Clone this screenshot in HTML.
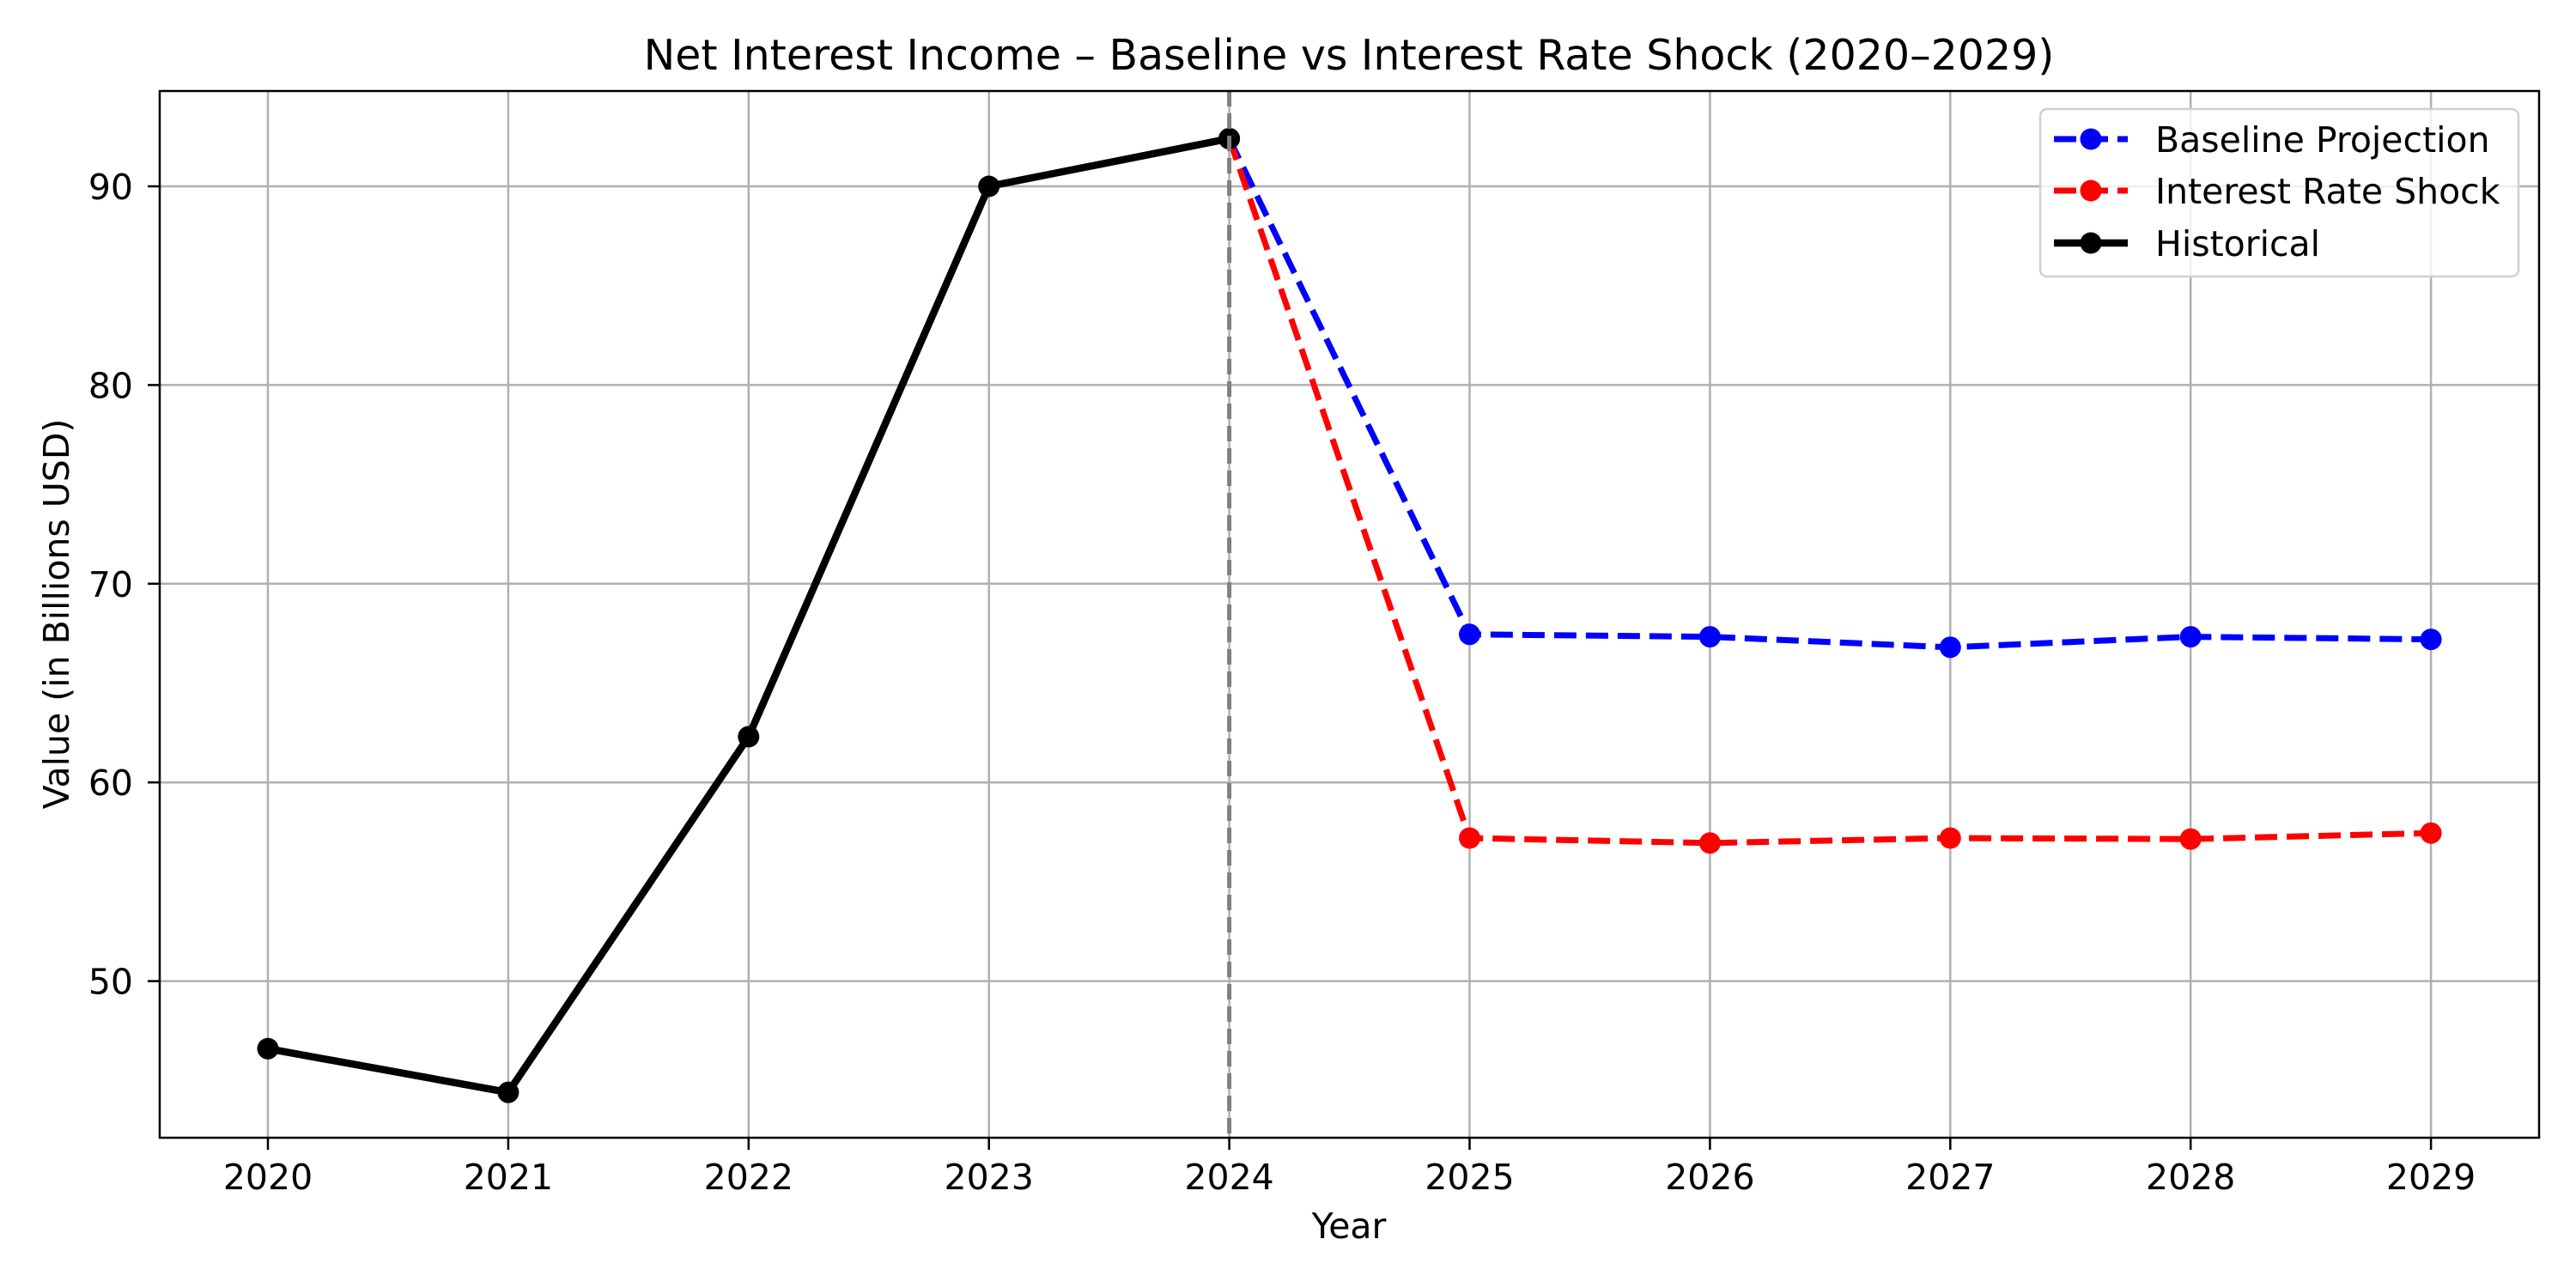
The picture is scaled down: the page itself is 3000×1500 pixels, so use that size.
<!DOCTYPE html>
<html><head><meta charset="utf-8"><style>
html,body{margin:0;padding:0;background:#fff;}
svg{display:block;font-family:"DejaVu Sans","Liberation Sans",sans-serif;}
</style></head><body>
<svg id="chart" width="3000" height="1500" viewBox="0 0 3000 1500" xmlns="http://www.w3.org/2000/svg">
<rect width="3000" height="1500" fill="#fff"/>
<g id="grid"></g>
<g id="marks"></g>
<g id="axes"></g>
<text x="1571" y="81" text-anchor="middle" font-size="49">Net Interest Income – Baseline vs Interest Rate Shock (2020–2029)</text>
<text x="1571" y="1442" text-anchor="middle" font-size="41">Year</text>
<text transform="translate(80,715) rotate(-90)" text-anchor="middle" font-size="41">Value (in Billions USD)</text>
<g id="legend"></g>
</svg>
<script>
const years = [2020,2021,2022,2023,2024,2025,2026,2027,2028,2029];
const histYears = [2020,2021,2022,2023,2024];
const histValues = [46.6,44.4,62.3,90.0,92.4];
const projYears = [2024,2025,2026,2027,2028,2029];
const baselineValues = [92.4,67.45,67.33,66.8,67.33,67.2];
const shockValues = [92.4,57.2,56.95,57.2,57.15,57.45];
const yTicks = [50,60,70,80,90];
const legendLabels = ["Baseline Projection","Interest Rate Shock","Historical"];

const L=186, R=2957, T=106, B=1325;
const x = yr => 312 + (yr-2020)*279.9;
const y = v => 217 + (90-v)*23.14;
const NS="http://www.w3.org/2000/svg";
function mk(tag, attrs, parent){const e=document.createElementNS(NS,tag);for(const k in attrs)e.setAttribute(k,attrs[k]);parent.appendChild(e);return e;}
const grid=document.getElementById('grid'), marks=document.getElementById('marks'), axes=document.getElementById('axes'), legend=document.getElementById('legend');

years.forEach(yr=>{
  const g=mk('line',{x1:x(yr),x2:x(yr),y1:T,y2:B,stroke:'#b0b0b0','stroke-width':2.5},grid);
  
  
  const t=mk('line',{x1:x(yr),x2:x(yr),y1:B,y2:B+14,stroke:'#000','stroke-width':2.5},axes);
  
  
  const l=mk('text',{x:x(yr),y:1385,'text-anchor':'middle','font-size':41},axes);
  l.textContent=yr;
  
  
});
yTicks.forEach(v=>{
  const g=mk('line',{x1:L,x2:R,y1:y(v),y2:y(v),stroke:'#b0b0b0','stroke-width':2.5},grid);
  
  
  const t=mk('line',{x1:L-14,x2:L,y1:y(v),y2:y(v),stroke:'#000','stroke-width':2.5},axes);
  
  
  const l=mk('text',{x:155,y:y(v)+15,'text-anchor':'end','font-size':41},axes);
  l.textContent=v;
  
  
});
const frame=mk('rect',{x:L,y:T,width:R-L,height:B-T,fill:'none',stroke:'#000','stroke-width':2.5},axes);



function series(xs, vs, color, width, dash, name){
  const pts=xs.map((yr,i)=>x(yr)+','+y(vs[i])).join(' ');
  const p=mk('polyline',{points:pts,fill:'none',stroke:color,'stroke-width':width,'stroke-linejoin':'round'},marks);
  if(dash)p.setAttribute('stroke-dasharray',dash);
  
  
  xs.forEach((yr,i)=>{
    const c=mk('circle',{cx:x(yr),cy:y(vs[i]),r:12.5,fill:color},marks);
    
    
  });
}
series(projYears, baselineValues, '#0000ff', 7, '26,11', 'baseline-projection');
series(projYears, shockValues, '#ff0000', 7, '26,11', 'interest-rate-shock');
series(histYears, histValues, '#000000', 8.5, null, 'historical');
const vl=mk('line',{x1:x(2024),x2:x(2024),y1:T,y2:B,stroke:'#808080','stroke-width':5,'stroke-dasharray':'18,8'},marks);



const box=mk('rect',{x:2376,y:127,width:2933-2376,height:322-127,rx:8,fill:'#fff','fill-opacity':0.8,stroke:'#d0d0d0','stroke-width':2.5},legend);


const lcol=['#0000ff','#ff0000','#000000'], lw=[7,7,8.5], ly=[162,222,283];
legendLabels.forEach((lab,i)=>{
  const ln=mk('line',{x1:2392,x2:2478,y1:ly[i],y2:ly[i],stroke:lcol[i],'stroke-width':lw[i]},legend);
  if(i<2) ln.setAttribute('stroke-dasharray','26,11');
  
  
  const c=mk('circle',{cx:2435,cy:ly[i],r:12.5,fill:lcol[i]},legend);
  
  
  const t=mk('text',{x:2510,y:ly[i]+15,'font-size':41},legend);
  t.textContent=lab;
  
  
});
</script>
</body></html>
